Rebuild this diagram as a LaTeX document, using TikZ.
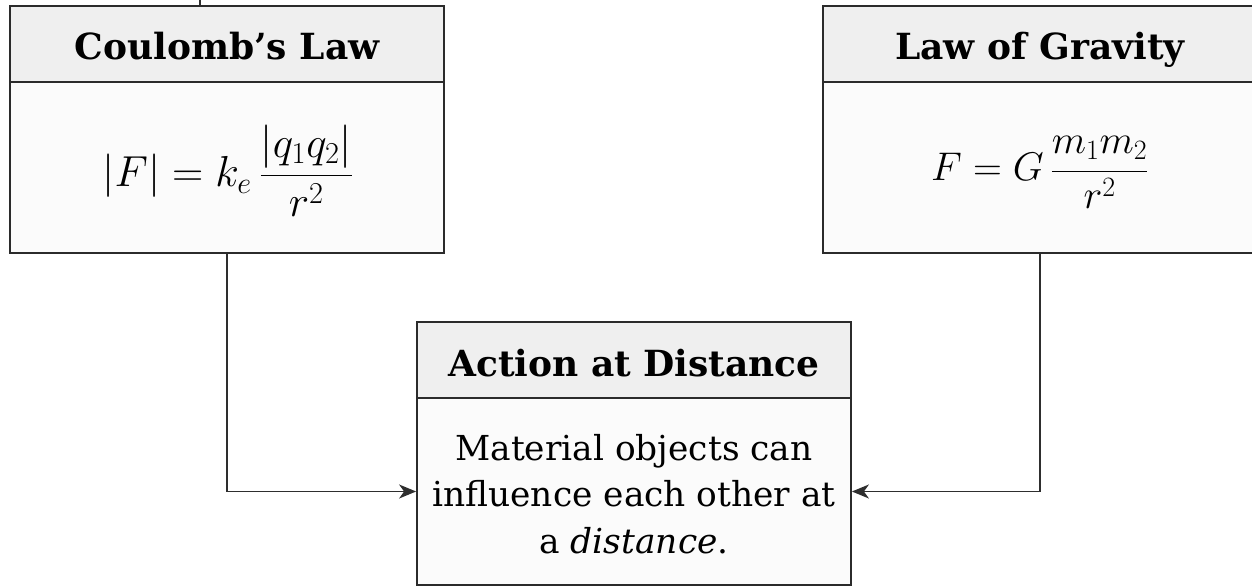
\RequirePackage{fix-cm}
\documentclass[tikz,border=0pt]{standalone}
\usepackage{fontspec}
\usepackage{graphicx}
\setmainfont{DejaVu Serif}
\usetikzlibrary{arrows.meta}
\definecolor{edgecol}{HTML}{2B2B2B}
\definecolor{headfill}{HTML}{EFEFEF}
\definecolor{bodyfill}{HTML}{FBFBFB}
\definecolor{conncol}{HTML}{2E2E2E}
\begin{document}
\begin{tikzpicture}[x=1pt,y=-1pt,
  boxbody/.style={draw=edgecol, line width=1.8pt, fill=bodyfill, minimum width=434pt, inner sep=0pt},
  boxhead/.style={draw=edgecol, line width=1.8pt, fill=headfill, minimum width=434pt, minimum height=76pt, inner sep=0pt},
  headtext/.style={font=\fontsize{36}{42}\selectfont\bfseries, inner sep=0pt, anchor=base},
  bodytext/.style={font=\fontsize{34.4}{46.5}\selectfont, align=center, inner sep=0pt},
  mathtext/.style={font=\fontsize{32}{38}\selectfont, inner sep=0pt, anchor=base},
  conn/.style={draw=conncol, line width=1.5pt},
  arr/.style={conn, -{Stealth[length=17pt, width=14pt, inset=5pt]}}
]
\useasboundingbox (0,0) rectangle (1252,588);

% Coulomb's Law
\node[boxbody, minimum height=171pt] (cbody) at (227,167.5) {};
\node[boxhead] (chead) at (227,44) {};
\node[headtext] (cheadtxt) at (227,60) {Coulomb’s Law};
\node[mathtext] (cmath) at (228,186.5) {\scalebox{1.355}{$\displaystyle |F| = k_e\,\frac{|q_1q_2|}{r^2}$}};

% Law of Gravity
\node[boxbody, minimum height=171pt] (gbody) at (1040,167.5) {};
\node[boxhead] (ghead) at (1040,44) {};
\node[headtext] (gheadtxt) at (1040,60) {Law of Gravity};
\node[mathtext] (gmath) at (1040,181) {\scalebox{1.25}{$\displaystyle F = G\,\frac{m_1m_2}{r^2}$}};

% Action at Distance
\node[boxbody, minimum height=187pt] (abody) at (634,491.5) {};
\node[boxhead] (ahead) at (634,360) {};
\node[headtext] (aheadtxt) at (634,376) {Action at Distance};
\node[bodytext] (atxt) at (634,494) {Material objects can\\influence each other at\\a \textit{distance}.};

% connectors
\coordinate (stubtop) at (200,0);
\draw[conn] (stubtop) -- (stubtop |- chead.north);
\draw[arr] (cbody.south) |- (abody.west);
\draw[arr] (gbody.south) |- (abody.east);
\end{tikzpicture}
\end{document}
